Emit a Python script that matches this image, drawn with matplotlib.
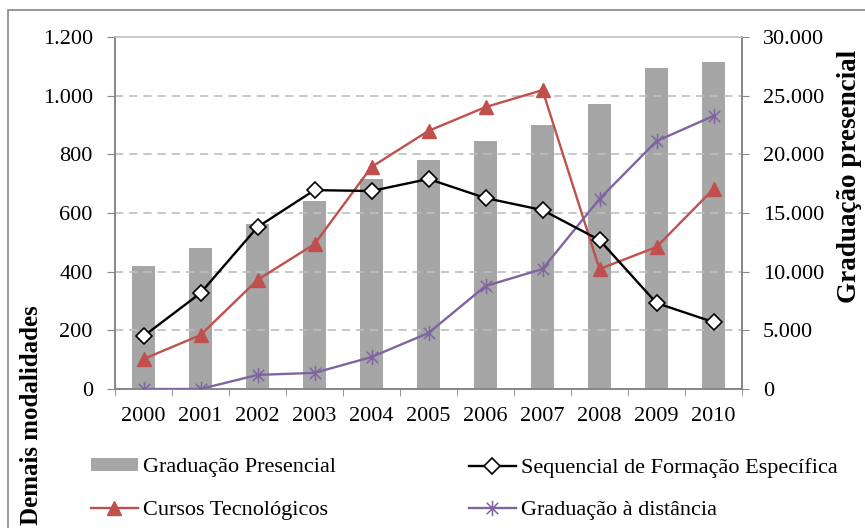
import matplotlib
matplotlib.use("Agg")
import matplotlib.pyplot as plt
from matplotlib.patches import Rectangle
from matplotlib.path import Path
from matplotlib.ticker import FuncFormatter
import numpy as np

plt.rcParams['font.family'] = ['Liberation Serif', 'DejaVu Serif']

years = ['2000', '2001', '2002', '2003', '2004', '2005', '2006', '2007', '2008', '2009', '2010']
grad_presencial = [10500, 12000, 14060, 16000, 17900, 19520, 21140, 22500, 24320, 27360, 27900]
sequencial = [180, 327, 552, 678, 675, 716, 651, 610, 508, 293, 228]
tecnologicos = [102, 184, 372, 494, 757, 880, 961, 1019, 409, 484, 682]
distancia = [0, 0, 48, 55, 109, 191, 351, 409, 648, 845, 931]

fig = plt.figure(figsize=(8.65, 5.28), dpi=100)
ax = fig.add_axes([115/865, 1-389/528, (742-115)/865, (389-37)/528])
ax2 = ax.twinx()

x = np.arange(len(years))
grey = '#A6A6A6'
spine_c = '#868686'

bars = ax2.bar(x, grad_presencial, width=0.4, color=grey, zorder=1, label='Graduação Presencial')
ax2.set_ylim(0, 30000)
ax.set_ylim(0, 1200)
ax.set_xlim(-0.5, 10.5)

ax.set_zorder(ax2.get_zorder() + 1)
ax.patch.set_visible(False)

# asterisk marker (X plus vertical bar)
star = Path([(0, -1), (0, 1), (-0.75, -0.75), (0.75, 0.75), (-0.75, 0.75), (0.75, -0.75)],
            [Path.MOVETO, Path.LINETO, Path.MOVETO, Path.LINETO, Path.MOVETO, Path.LINETO])

l1, = ax.plot(x, sequencial, color='black', lw=1.7, marker='D', ms=8, mfc='white', mec='black', mew=1.2,
              label='Sequencial de Formação Específica', zorder=4)
l2, = ax.plot(x, tecnologicos, color='#C0504D', lw=1.7, marker='^', ms=10, mfc='#C0504D', mec='#C0504D',
              label='Cursos Tecnológicos', zorder=3)
l3, = ax.plot(x, distancia, color='#8064A2', lw=1.7, marker=star, ms=11, mew=1.1,
              label='Graduação à distância', zorder=3)

# dashed gridlines
for v in range(200, 1200, 200):
    ax.axhline(v, color='#BFBFBF', lw=1.2, ls=(0, (5, 3.5)), zorder=0.5)

fmt = lambda v, p: f"{int(v):,}".replace(',', '.')
ax.set_yticks(range(0, 1201, 200))
ax.yaxis.set_major_formatter(FuncFormatter(fmt))
ax2.set_yticks(range(0, 30001, 5000))
ax2.yaxis.set_major_formatter(FuncFormatter(fmt))

ax.set_xticks(x)
ax.set_xticklabels(years)
ax.set_xticks(np.arange(-0.5, 11, 1), minor=True)
ax.tick_params(axis='x', which='major', length=0, pad=13, labelsize=16)
ax.tick_params(axis='x', which='minor', length=5, color=spine_c, direction='out')
ax.tick_params(axis='y', length=6, color=spine_c, labelsize=16, pad=10)
ax2.tick_params(axis='y', length=5, color=spine_c, labelsize=16, pad=10)

for a in (ax, ax2):
    for s in a.spines.values():
        s.set_color(spine_c)
        s.set_linewidth(1.2)
ax.spines['top'].set_color('#BFBFBF')
ax2.spines['top'].set_visible(False)

fig.text(31/865, 1-525/528, 'Demais modalidades', rotation=90, fontsize=18, fontweight='bold',
         ha='center', va='bottom')
fig.text(850/865, 1-50/528, 'Graduação presencial', rotation=90, fontsize=19.5, fontweight='bold',
         ha='center', va='top')

leg_kw = dict(frameon=False, fontsize=16, handlelength=2.1, handletextpad=0.25,
              labelspacing=1.05, borderpad=0, borderaxespad=0, handleheight=0.5, loc='center left')
leg1 = fig.legend([bars, l2], ['Graduação Presencial', 'Cursos Tecnológicos'],
                  bbox_to_anchor=(91/865, 1-489/528), **leg_kw)
leg2 = fig.legend([l1, l3], ['Sequencial de Formação Específica', 'Graduação à distância'],
                  bbox_to_anchor=(469/865, 1-489/528), **leg_kw)

fig.patches.append(Rectangle((8/865, -0.1), 2, 1.1 - 10/528, transform=fig.transFigure,
                             fill=False, ec='#868686', lw=1.2))

fig.savefig('out.png', dpi=100)
